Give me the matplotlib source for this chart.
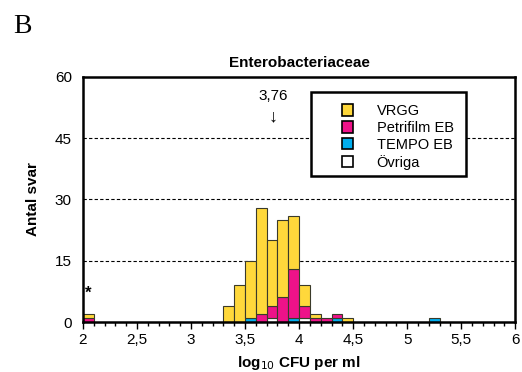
import numpy as np
import matplotlib
matplotlib.use('Agg')
import matplotlib.pyplot as plt
from matplotlib.patches import Patch, Rectangle
from matplotlib.ticker import MultipleLocator, FuncFormatter

plt.rcParams['font.family'] = ['Liberation Sans', 'DejaVu Sans']

# bin starts (log10 CFU per ml), width 0.1
bin_start = [2.0, 3.3, 3.4, 3.5, 3.6, 3.7, 3.8, 3.9, 4.0, 4.1, 4.2, 4.3, 4.4, 5.2]
vrgg      = [1,   4,   9,   14,  26,  16,  19,  13,  5,   1,   0,   0,   1,   0]
petrifilm = [1,   0,   0,   0,   2,   3,   6,   12,  3,   1,   1,   1,   0,   0]
tempo     = [0,   0,   0,   1,   0,   0,   0,   1,   0,   0,   0,   1,   0,   1]
ovriga    = [0,   0,   0,   0,   0,   1,   0,   0,   1,   0,   0,   0,   0,   0]
labels = ['VRGG', 'Petrifilm EB', 'TEMPO EB', 'Övriga']
colors = ['#FFD83B', '#EE1289', '#00AEEF', '#FFFFFF']
median = 3.76

fig = plt.figure(figsize=(5.22, 3.72), dpi=100)
ax = fig.add_axes([0.159, 0.1344, 0.828, 0.659])

x = np.array(bin_start)
w = 0.1
bottom = np.zeros(len(x))
# stack from bottom: TEMPO, Övriga, Petrifilm, VRGG
for vals, col in [(tempo, colors[2]), (ovriga, colors[3]), (petrifilm, colors[1]), (vrgg, colors[0])]:
    v = np.array(vals, dtype=float)
    mask = v > 0
    ax.bar(x[mask], v[mask], width=w, bottom=bottom[mask], align='edge',
           color=col, edgecolor='#3a3a2a', linewidth=0.8, zorder=3)
    bottom += v

ax.set_xlim(2, 6)
ax.set_ylim(0, 60)
ax.set_yticks([0, 15, 30, 45, 60])
for yv in [15, 30, 45]:
    ax.axhline(yv, color='black', linestyle=(0, (3, 2)), linewidth=0.8, zorder=1)

ax.xaxis.set_major_locator(MultipleLocator(0.5))
ax.xaxis.set_minor_locator(MultipleLocator(0.1))
ax.xaxis.set_major_formatter(FuncFormatter(lambda v, p: ('%g' % v).replace('.', ',')))
ax.tick_params(axis='x', which='major', direction='out', length=5, width=1, labelsize=11, pad=3)
ax.tick_params(axis='x', which='minor', direction='out', length=3, width=1)
ax.tick_params(axis='y', length=0, labelsize=11, pad=8)
for sp in ax.spines.values():
    sp.set_linewidth(1.8)
    sp.set_zorder(5)

ax.set_title('Enterobacteriaceae', fontsize=11, fontweight='bold', pad=7)
ax.set_ylabel('Antal svar', fontsize=11, fontweight='bold', labelpad=11)
ax.set_xlabel(r'log$_{10}$ CFU per ml', fontsize=11, fontweight='bold', labelpad=5)

ax.text(median, 55.2, '3,76', ha='center', va='center', fontsize=11)
ax.text(median, 50.3, '\u2193', ha='center', va='center', fontsize=13)
ax.text(2.05, 7, '*', ha='center', va='center', fontsize=12, fontweight='bold')

# legend box drawn separately so the inner spacing can match
box = Rectangle((0.528, 0.596), 0.359, 0.343, transform=ax.transAxes,
                facecolor='white', edgecolor='black', linewidth=1.8, zorder=6)
ax.add_patch(box)
handles = [Patch(facecolor=c, edgecolor='black', linewidth=1.2) for c in colors]
leg = ax.legend(handles, labels, loc='upper left', bbox_to_anchor=(0.6, 0.89),
                fontsize=10.5, frameon=False, handlelength=0.75,
                handleheight=0.85, handletextpad=1.6, labelspacing=0.2,
                borderpad=0, borderaxespad=0)
leg.set_zorder(7)

fig.text(0.025, 0.93, 'B', fontsize=20, family='Liberation Serif', va='center')

fig.savefig('out.png', dpi=100)
